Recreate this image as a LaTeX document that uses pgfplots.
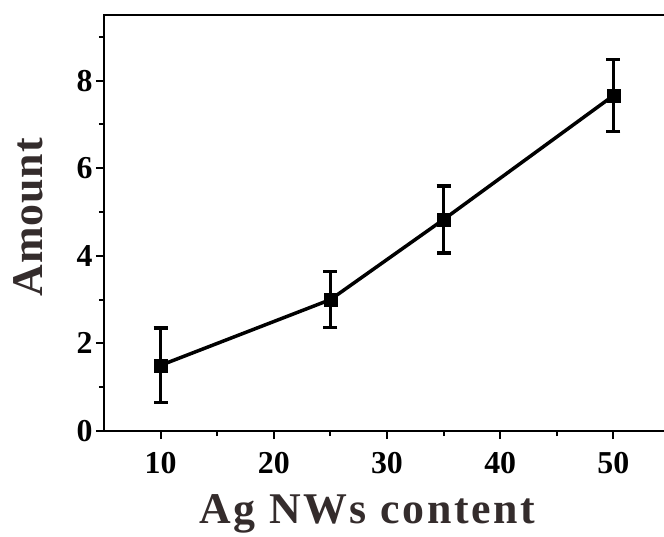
\documentclass[border=0pt]{standalone}
\usepackage{fontspec}
\setmainfont{Liberation Serif}
\usepackage{pgfplots}
\pgfplotsset{compat=1.18}
\definecolor{lab}{RGB}{52,44,44}
\begin{document}
\begin{tikzpicture}
\begin{axis}[
  name=ax,
  scale only axis,
  width=566bp, height=416bp,
  xmin=5, xmax=55, ymin=0, ymax=9.5,
  xtick={10,20,30,40,50}, ytick={0,2,4,6,8},
  minor xtick={15,25,35,45}, minor ytick={1,3,5,7,9},
  tick align=outside, tick pos=left,
  major tick length=8bp, minor tick length=5bp,
  every tick/.style={black, line width=2bp},
  axis line style={line width=2.2bp},
  ticklabel style={font=\fontsize{32}{34}\selectfont\bfseries},
  xticklabel style={yshift=-10bp},
  /pgf/number format/assume math mode=true,
  xlabel={Ag NWs content}, ylabel={Amount},
  xlabel style={font=\fontsize{44}{48}\selectfont\bfseries\addfontfeature{LetterSpace=6}, text=lab,
    at={(axis description cs:0.465,0)}, anchor=center, yshift=-83bp},
  ylabel style={font=\fontsize{44}{48}\selectfont\bfseries\addfontfeature{LetterSpace=2}, text=lab,
    at={([xshift=-76bp]axis description cs:0,0.514)}, anchor=center},
]
\addplot+[black, line width=3.5bp, mark=square*, mark size=6.5bp, mark options={solid, fill=black, line width=0.5bp},
  error bars/.cd, y dir=both, y explicit,
  error bar style={line width=3.5bp},
  error mark options={rotate=90, mark size=7bp, line width=3.5bp}]
coordinates {(10,1.5) +- (0,0.85) (25,3.0) +- (0,0.64) (35,4.83) +- (0,0.77) (50,7.66) +- (0,0.82)};
\end{axis}
\pgfresetboundingbox
\path[use as bounding box] ([shift={(-104bp,-106bp)}]ax.south west) rectangle ++(664bp,537bp);
\end{tikzpicture}
\end{document}
